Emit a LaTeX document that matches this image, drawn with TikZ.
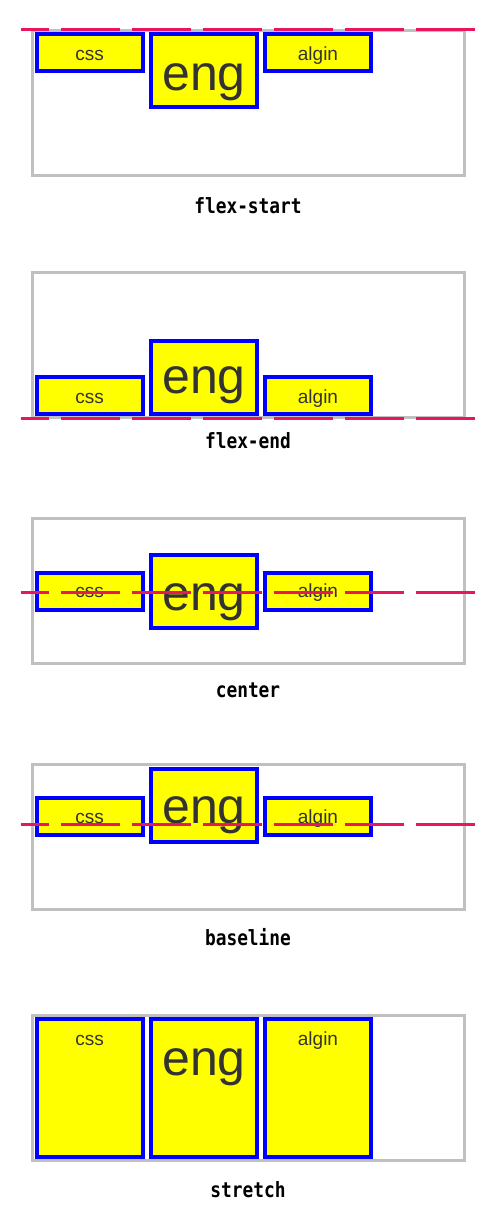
\documentclass[tikz,border=0pt]{standalone}
\usepackage{fontspec}
\setmainfont{Liberation Sans}
\newfontfamily\codefont[FakeStretch=0.85]{DejaVu Sans Mono}
\usepackage{tikz}
\usetikzlibrary{positioning}

\definecolor{framegray}{RGB}{192,192,192}
\definecolor{linered}{RGB}{233,22,93}
\definecolor{textgray}{RGB}{51,51,51}
\definecolor{boxyellow}{RGB}{255,255,0}
\definecolor{boxblue}{RGB}{0,0,255}

\begin{document}
\begin{tikzpicture}[
    x=1pt, y=-1pt,
    frame/.style={rectangle, draw=framegray, line width=3, minimum width=432, minimum height=145, inner sep=0, outer sep=0},
    item/.style={rectangle, draw=boxblue, fill=boxyellow, line width=4, minimum width=106, minimum height=37, inner sep=0, outer sep=0},
    tall/.style={item, minimum height=73},
    word/.style={anchor=base, text=textgray, inner sep=0, font=\fontsize{19}{22}\selectfont},
    bigword/.style={word, font=\fontsize{50}{56}\selectfont},
    caption/.style={anchor=base, inner sep=0, font=\codefont\bfseries\fontsize{21}{24}\selectfont},
    axis/.style={draw=linered, line width=3, dash pattern=on 59 off 12, dash phase=31}
]
    \fill[white] (0,0) rectangle (500,1231);
    \useasboundingbox (0,0) rectangle (500,1231);

    % flex-start
    \node[frame] (fs-frame) at (248.5,103) {};
    \node[item] (fs-css) at (89.5,52.5) {};
    \node[tall] (fs-eng) at (204,70.5) {};
    \node[item] (fs-algin) at (318,52.5) {};
    \node[word] (fs-css-txt) at (89.5,60) {css};
    \node[bigword] (fs-eng-txt) at (204,90) {eng};
    \node[word] (fs-algin-txt) at (318,60) {algin};
    \coordinate (fs-l) at (20.7,29.3);
    \coordinate (fs-r) at (476,29.3);
    \draw[axis] (fs-l) -- (fs-r);
    \node[caption] (fs-label) at (248,213) {flex-start};

    % flex-end
    \node[frame] (fe-frame) at (248.5,345) {};
    \node[item] (fe-css) at (89.5,395.5) {};
    \node[tall] (fe-eng) at (204,377.5) {};
    \node[item] (fe-algin) at (318,395.5) {};
    \node[word] (fe-css-txt) at (89.5,403.3) {css};
    \node[bigword] (fe-eng-txt) at (204,393.3) {eng};
    \node[word] (fe-algin-txt) at (318,403.3) {algin};
    \coordinate (fe-l) at (20.7,418.3);
    \coordinate (fe-r) at (476,418.3);
    \draw[axis] (fe-l) -- (fe-r);
    \node[caption] (fe-label) at (248,448.3) {flex-end};

    % center
    \node[frame] (c-frame) at (248.5,590.5) {};
    \node[item] (c-css) at (89.5,591) {};
    \node[tall] (c-eng) at (204,591) {};
    \node[item] (c-algin) at (318,591) {};
    \node[word] (c-css-txt) at (89.5,597.7) {css};
    \node[bigword] (c-eng-txt) at (204,610) {eng};
    \node[word] (c-algin-txt) at (318,597.7) {algin};
    \coordinate (c-l) at (20.7,592);
    \coordinate (c-r) at (476,592);
    \draw[axis] (c-l) -- (c-r);
    \node[caption] (c-label) at (248,697.7) {center};

    % baseline
    \node[frame] (b-frame) at (248.5,837) {};
    \node[item] (b-css) at (89.5,816) {};
    \node[tall] (b-eng) at (204,805) {};
    \node[item] (b-algin) at (318,816) {};
    \node[word] (b-css-txt) at (89.5,823) {css};
    \node[bigword] (b-eng-txt) at (204,823) {eng};
    \node[word] (b-algin-txt) at (318,823) {algin};
    \coordinate (b-l) at (20.7,824);
    \coordinate (b-r) at (476,824);
    \draw[axis] (b-l) -- (b-r);
    \node[caption] (b-label) at (248,945) {baseline};

    % stretch
    \node[frame] (s-frame) at (248.5,1088) {};
    \node[item, minimum height=138] (s-css) at (89.5,1088) {};
    \node[item, minimum height=138] (s-eng) at (204,1088) {};
    \node[item, minimum height=138] (s-algin) at (318,1088) {};
    \node[word] (s-css-txt) at (89.5,1045) {css};
    \node[bigword] (s-eng-txt) at (204,1075) {eng};
    \node[word] (s-algin-txt) at (318,1045) {algin};
    \node[caption] (s-label) at (248,1197.7) {stretch};
\end{tikzpicture}
\end{document}
